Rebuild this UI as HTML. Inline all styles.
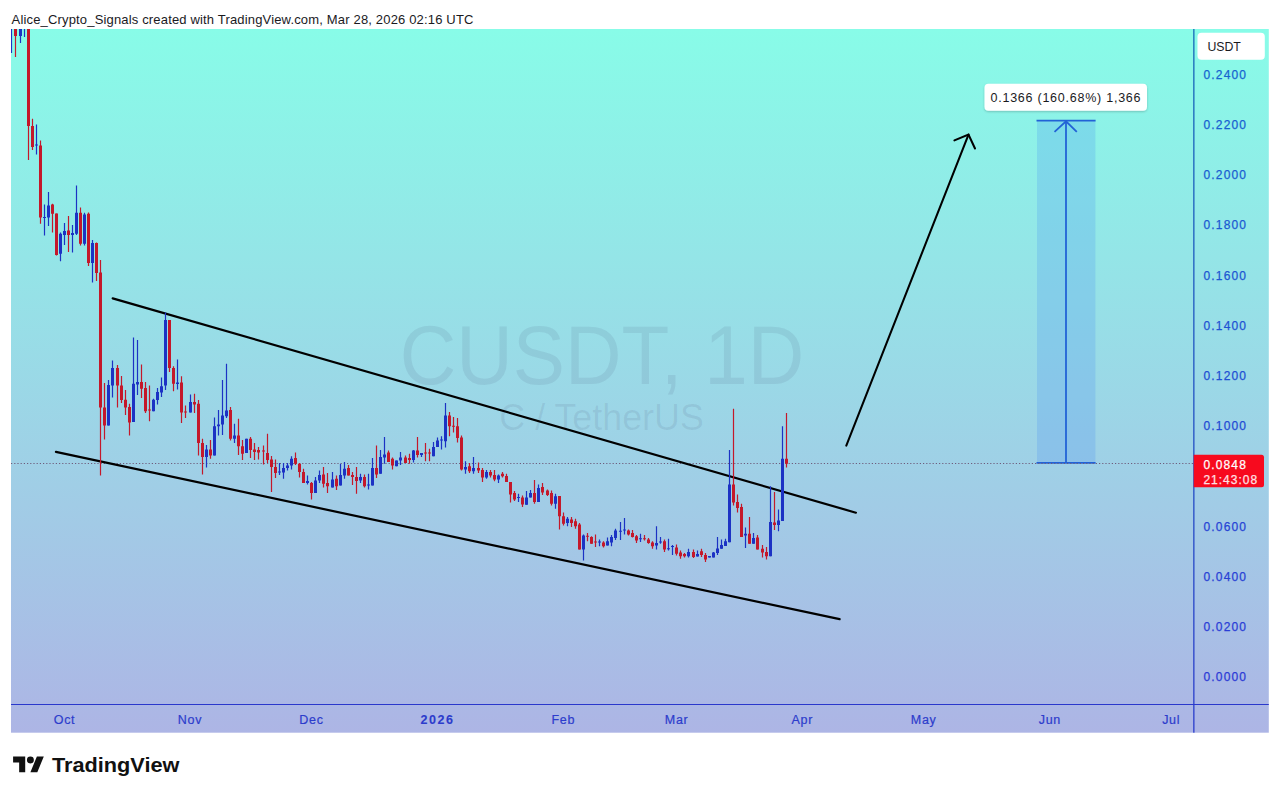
<!DOCTYPE html>
<html lang="en"><head><meta charset="utf-8"><title>CUSDT chart</title>
<style>
html,body{margin:0;padding:0;background:#fff;}
body{width:1280px;height:797px;overflow:hidden;position:relative;font-family:"Liberation Sans",sans-serif;}
svg{position:absolute;left:0;top:0;display:block;}
text{font-family:"Liberation Sans",sans-serif;}
.ax{font-size:12px;letter-spacing:1.15px;stroke-width:0.25px;}
.tm{font-size:12.5px;letter-spacing:0.7px;fill:#2c3ccc;stroke:#2c3ccc;stroke-width:0.2px;}
</style></head><body>
<svg width="1280" height="797" viewBox="0 0 1280 797">
<defs>
<linearGradient id="bg" x1="0" y1="0" x2="0" y2="1"><stop offset="0" stop-color="rgb(136,252,232)"/><stop offset="1" stop-color="rgb(173,181,229)"/></linearGradient>
<linearGradient id="axl" x1="0" y1="0" x2="0" y2="1"><stop offset="0" stop-color="#1668b8"/><stop offset="1" stop-color="#2a3ccc"/></linearGradient>
<filter id="sh" x="-10%" y="-30%" width="120%" height="170%"><feDropShadow dx="0" dy="1" stdDeviation="1.2" flood-color="#000" flood-opacity="0.22"/></filter>
<clipPath id="cp"><rect x="11" y="29" width="1183" height="675.5"/></clipPath>
</defs>
<text x="11.6" y="23.6" font-size="13" fill="#1a1a1e" textLength="461.8" lengthAdjust="spacing">Alice_Crypto_Signals created with TradingView.com, Mar 28, 2026 02:16 UTC</text>
<rect x="11" y="29" width="1257.8" height="703.7" fill="url(#bg)"/>
<g fill="rgba(50,52,92,0.095)">
<text x="602" y="384" font-size="84" text-anchor="middle" textLength="404.5" lengthAdjust="spacingAndGlyphs">CUSDT, 1D</text>
<text x="601.6" y="430" font-size="37.5" text-anchor="middle" textLength="204.5" lengthAdjust="spacingAndGlyphs">C / TetherUS</text>
</g>
<rect x="1037" y="120.6" width="58.4" height="342.2" fill="rgba(60,130,245,0.2)"/>
<g stroke="#2262d6" stroke-width="1.8" fill="none">
<line x1="1036.5" y1="120.6" x2="1095.6" y2="120.6"/>
<line x1="1036.5" y1="462.8" x2="1095.6" y2="462.8"/>
<line x1="1066" y1="121.5" x2="1066" y2="462.8"/>
<polyline points="1054.5,131.8 1066,121.3 1076.8,131.8" stroke-width="1.8"/>
</g>
<line x1="11" y1="463.5" x2="1194" y2="463.5" stroke="#6e5c7c" stroke-width="1.05" stroke-dasharray="1.2 2"/>
<g stroke="#000" stroke-width="2.2" stroke-linecap="round" fill="none">
<line x1="112.7" y1="298.4" x2="855.9" y2="512.7"/>
<line x1="55.9" y1="451.9" x2="839.6" y2="619.2"/>
<line x1="846.3" y1="445.6" x2="968.4" y2="134.8" stroke-width="2.05"/>
<polyline points="954.4,140.4 968.5,134.6 975,148.5" stroke-linejoin="miter" stroke-width="2.05"/>
</g>
<g clip-path="url(#cp)">
<path d="M15.50 29.00V57.00M28.50 29.00V160.00M32.50 118.75V150.00M40.50 140.60V223.75M52.50 203.75V232.50M56.50 213.50V255.60M68.50 216.00V252.00M80.50 207.50V245.60M88.50 212.50V266.00M96.50 242.50V281.00M100.50 260.00V475.60M104.50 383.00V439.40M117.50 365.00V407.50M121.50 376.00V403.00M125.50 390.00V415.00M129.50 403.75V435.60M141.50 364.40V398.00M145.50 382.00V413.00M149.50 385.60V421.25M169.50 320.00V372.00M173.50 366.25V391.25M181.50 376.25V423.00M185.50 405.60V418.00M194.50 393.75V413.00M198.50 400.00V455.60M202.50 438.75V474.40M210.50 440.00V458.75M230.50 407.00V440.60M238.50 418.75V455.00M242.50 440.00V460.00M250.50 437.00V458.00M254.50 443.00V460.00M258.50 447.00V459.40M263.50 445.60V464.40M267.50 433.75V463.00M271.50 456.00V492.00M275.50 459.40V478.00M295.50 452.50V465.00M299.50 463.00V477.50M303.50 468.75V483.00M311.50 482.00V499.40M323.50 467.00V487.50M327.50 473.00V493.00M336.50 475.60V490.00M348.50 465.00V475.60M352.50 472.00V485.00M356.50 467.00V493.75M364.50 474.40V487.50M376.50 445.60V478.00M388.50 450.60V462.00M392.50 457.50V469.40M405.50 455.60V463.00M409.50 453.75V463.75M417.50 437.00V457.50M425.50 443.00V461.25M429.50 448.75V461.25M449.50 412.00V436.25M453.50 417.00V432.50M457.50 418.00V442.50M461.50 435.60V470.60M469.50 463.00V473.00M478.50 462.50V473.00M482.50 468.00V482.00M490.50 470.00V477.50M494.50 470.00V481.25M502.50 472.00V477.50M506.50 473.75V482.00M510.50 482.00V502.50M514.50 491.00V501.00M522.50 495.60V507.00M534.50 480.00V503.75M542.50 483.00V495.00M547.50 489.40V496.00M551.50 490.60V505.60M559.50 496.00V529.40M563.50 512.50V525.60M571.50 517.00V527.00M575.50 518.75V528.75M579.50 523.00V549.40M587.50 533.00V541.25M591.50 536.25V543.75M595.50 534.40V547.00M603.50 541.25V547.50M628.50 529.40V535.60M632.50 530.00V537.50M636.50 535.00V543.00M644.50 535.00V540.60M648.50 538.00V543.75M652.50 541.25V548.75M664.50 539.40V552.00M676.50 544.40V555.60M680.50 550.60V558.75M684.50 553.00V557.50M693.50 549.40V558.00M701.50 548.75V557.00M705.50 553.00V562.00M733.50 408.75V505.60M737.50 494.40V512.50M741.50 503.75V537.00M749.50 517.00V543.75M757.50 535.00V549.40M762.50 545.00V557.50M766.50 547.00V559.40M774.50 492.00V530.00M786.50 413.00V467.50" stroke="#c4182a" stroke-width="1.2" fill="none"/>
<path d="M11.50 29.00V53.00M20.50 29.00V43.00M24.50 29.00V37.00M36.50 124.40V154.40M44.50 204.40V235.60M48.50 192.00V226.00M60.50 232.50V261.25M64.50 223.00V245.00M72.50 225.00V252.50M76.50 185.60V235.00M84.50 212.75V245.60M92.50 240.00V282.50M108.50 380.00V425.60M112.50 360.60V397.50M133.50 337.50V422.00M137.50 340.00V395.00M153.50 398.75V411.25M157.50 388.00V404.40M161.50 377.50V397.00M165.50 312.50V390.00M177.50 359.40V389.40M190.50 394.40V412.50M206.50 445.00V467.50M214.50 417.50V455.60M218.50 410.00V435.60M222.50 380.00V435.00M226.50 363.75V418.00M234.50 423.75V443.00M246.50 438.75V453.00M279.50 463.00V475.00M283.50 463.00V478.75M287.50 463.00V470.60M291.50 456.25V469.40M307.50 475.60V484.40M315.50 477.00V493.00M319.50 470.60V483.00M332.50 472.00V487.50M340.50 463.75V485.60M344.50 462.00V478.75M360.50 473.75V483.00M368.50 473.75V489.40M372.50 458.00V485.60M380.50 450.00V473.75M384.50 437.00V463.75M396.50 460.60V466.25M400.50 452.00V465.00M413.50 450.00V462.50M421.50 453.00V457.00M433.50 442.00V456.25M437.50 437.50V447.00M441.50 436.25V449.40M445.50 403.00V447.50M465.50 461.25V473.75M473.50 457.00V473.75M486.50 470.00V478.75M498.50 474.40V483.00M518.50 493.75V502.00M526.50 491.00V504.75M530.50 490.00V497.50M538.50 484.40V502.00M555.50 493.75V508.75M567.50 517.00V526.25M583.50 534.40V560.60M599.50 539.40V546.25M607.50 537.50V545.60M611.50 535.00V546.25M615.50 528.75V540.00M620.50 522.00V540.00M624.50 518.00V534.40M640.50 533.75V542.00M656.50 526.25V549.40M660.50 537.00V543.75M668.50 538.75V550.60M672.50 545.00V555.00M688.50 548.75V557.50M697.50 550.60V556.50M709.50 556.00V557.50M713.50 552.00V557.50M717.50 537.00V555.00M721.50 539.40V548.75M725.50 538.75V546.00M729.50 450.00V542.25M745.50 527.50V548.00M753.50 533.00V543.75M770.50 486.25V556.25M778.50 509.40V531.25M782.50 426.25V521.00" stroke="#1c32c4" stroke-width="1.2" fill="none"/>
<path d="M14.00 29.00h3v7.00h-3zM27.00 29.00h3v97.00h-3zM31.00 126.00h3v21.00h-3zM39.00 145.60h3v71.90h-3zM51.00 204.40h3v9.35h-3zM55.00 213.50h3v41.50h-3zM67.00 230.60h3v4.40h-3zM79.00 212.75h3v31.00h-3zM87.00 213.75h3v49.25h-3zM95.00 243.00h3v30.00h-3zM99.00 272.50h3v135.00h-3zM103.00 407.50h3v18.10h-3zM116.00 368.00h3v17.60h-3zM120.00 385.60h3v14.40h-3zM124.00 399.75h3v7.75h-3zM128.00 407.00h3v15.50h-3zM140.00 382.00h3v6.75h-3zM144.00 388.00h3v23.25h-3zM148.00 409.50h3v1.00h-3zM168.00 320.00h3v48.00h-3zM172.00 368.00h3v15.75h-3zM180.00 382.50h3v30.00h-3zM184.00 411.50h3v1.00h-3zM193.00 402.00h3v2.40h-3zM197.00 403.75h3v39.25h-3zM201.00 443.00h3v14.00h-3zM209.00 449.40h3v6.20h-3zM229.00 410.00h3v28.75h-3zM237.00 435.60h3v10.65h-3zM241.00 446.25h3v7.50h-3zM249.00 438.75h3v11.25h-3zM253.00 449.40h3v2.60h-3zM257.00 450.00h3v2.50h-3zM262.00 450.50h3v1.00h-3zM266.00 453.00h3v7.00h-3zM270.00 459.40h3v7.60h-3zM274.00 467.00h3v6.00h-3zM294.00 458.00h3v5.75h-3zM298.00 463.75h3v8.25h-3zM302.00 472.00h3v11.00h-3zM310.00 483.00h3v10.00h-3zM322.00 474.40h3v9.35h-3zM326.00 483.00h3v3.25h-3zM335.00 478.75h3v7.50h-3zM347.00 468.00h3v7.60h-3zM351.00 475.00h3v2.00h-3zM355.00 477.00h3v4.00h-3zM363.00 477.00h3v9.25h-3zM375.00 468.00h3v6.40h-3zM387.00 452.50h3v9.50h-3zM391.00 458.75h3v6.85h-3zM404.00 457.50h3v5.50h-3zM408.00 458.00h3v2.00h-3zM416.00 450.60h3v4.40h-3zM424.00 452.50h3v1.00h-3zM428.00 452.50h3v1.00h-3zM448.00 415.60h3v10.65h-3zM452.00 425.75h3v1.00h-3zM456.00 426.25h3v11.75h-3zM460.00 437.50h3v31.90h-3zM468.00 466.25h3v5.00h-3zM477.00 468.00h3v2.60h-3zM481.00 470.00h3v7.50h-3zM489.00 472.00h3v3.60h-3zM493.00 475.00h3v4.40h-3zM501.00 473.75h3v2.50h-3zM505.00 476.00h3v6.00h-3zM509.00 482.00h3v12.40h-3zM513.00 493.00h3v6.40h-3zM521.00 497.50h3v6.90h-3zM533.00 493.00h3v9.00h-3zM541.00 487.00h3v5.50h-3zM546.00 490.60h3v4.40h-3zM550.00 493.00h3v10.75h-3zM558.00 496.00h3v20.25h-3zM562.00 516.25h3v7.50h-3zM570.00 519.40h3v3.60h-3zM574.00 521.25h3v5.00h-3zM578.00 524.40h3v25.00h-3zM586.00 535.75h3v1.00h-3zM590.00 537.00h3v6.75h-3zM594.00 541.50h3v1.00h-3zM602.00 542.50h3v3.75h-3zM627.00 530.60h3v3.80h-3zM631.00 533.00h3v4.00h-3zM635.00 536.25h3v4.35h-3zM643.00 538.25h3v1.00h-3zM647.00 539.40h3v3.60h-3zM651.00 542.50h3v3.75h-3zM663.00 541.25h3v8.15h-3zM675.00 547.50h3v6.25h-3zM679.00 552.50h3v3.75h-3zM683.00 554.00h3v2.25h-3zM692.00 552.00h3v5.00h-3zM700.00 551.25h3v3.75h-3zM704.00 555.00h3v4.40h-3zM732.00 484.40h3v18.10h-3zM736.00 502.00h3v6.00h-3zM740.00 507.00h3v30.00h-3zM748.00 533.75h3v10.00h-3zM756.00 537.50h3v11.90h-3zM761.00 548.75h3v3.75h-3zM765.00 552.00h3v4.25h-3zM773.00 522.50h3v2.50h-3zM785.00 458.75h3v5.00h-3z" fill="#c4182a"/>
<path d="M19.00 29.00h3v7.00h-3zM35.00 144.50h3v1.00h-3zM43.00 217.00h3v1.00h-3zM47.00 205.60h3v11.90h-3zM59.00 233.75h3v20.00h-3zM63.00 231.00h3v4.00h-3zM71.00 233.00h3v2.00h-3zM75.00 212.75h3v21.00h-3zM83.00 214.40h3v29.35h-3zM91.00 243.00h3v20.00h-3zM107.00 385.00h3v40.60h-3zM111.00 368.00h3v17.60h-3zM132.00 383.75h3v38.25h-3zM136.00 382.00h3v2.40h-3zM152.00 399.75h3v11.50h-3zM156.00 392.00h3v8.00h-3zM160.00 386.25h3v6.25h-3zM164.00 320.00h3v65.60h-3zM176.00 382.50h3v1.50h-3zM189.00 402.00h3v10.50h-3zM205.00 449.40h3v7.60h-3zM213.00 426.25h3v29.35h-3zM217.00 424.40h3v1.85h-3zM221.00 415.60h3v8.80h-3zM225.00 410.60h3v5.65h-3zM233.00 435.60h3v3.15h-3zM245.00 438.75h3v14.25h-3zM278.00 471.50h3v1.00h-3zM282.00 468.00h3v4.50h-3zM286.00 465.60h3v2.40h-3zM290.00 458.75h3v6.85h-3zM306.00 481.00h3v2.00h-3zM314.00 480.60h3v12.40h-3zM318.00 475.00h3v5.60h-3zM331.00 479.40h3v8.10h-3zM339.00 475.00h3v10.60h-3zM343.00 468.75h3v6.85h-3zM359.00 477.00h3v3.60h-3zM367.00 484.50h3v1.00h-3zM371.00 468.00h3v17.60h-3zM379.00 457.00h3v16.75h-3zM383.00 454.40h3v3.10h-3zM395.00 460.60h3v5.65h-3zM399.00 457.50h3v3.10h-3zM412.00 450.60h3v9.40h-3zM420.00 453.00h3v2.00h-3zM432.00 447.00h3v9.25h-3zM436.00 440.60h3v6.40h-3zM440.00 439.50h3v1.00h-3zM444.00 415.60h3v25.65h-3zM464.00 467.00h3v2.40h-3zM472.00 468.00h3v3.25h-3zM485.00 472.00h3v5.50h-3zM497.00 475.60h3v3.80h-3zM517.00 497.00h3v1.00h-3zM525.00 497.50h3v7.25h-3zM529.00 493.00h3v4.50h-3zM537.00 488.00h3v14.00h-3zM554.00 496.25h3v7.50h-3zM566.00 518.75h3v4.25h-3zM582.00 535.60h3v13.80h-3zM598.00 541.50h3v1.00h-3zM606.00 541.25h3v4.35h-3zM610.00 537.00h3v5.50h-3zM614.00 530.60h3v7.40h-3zM619.00 530.75h3v1.00h-3zM623.00 529.50h3v1.00h-3zM639.00 538.25h3v1.00h-3zM655.00 543.00h3v2.60h-3zM659.00 541.50h3v1.00h-3zM667.00 548.25h3v1.00h-3zM671.00 546.00h3v1.00h-3zM687.00 552.00h3v4.25h-3zM696.00 554.00h3v2.50h-3zM708.00 556.00h3v1.50h-3zM712.00 552.50h3v5.00h-3zM716.00 548.50h3v4.50h-3zM720.00 545.00h3v3.75h-3zM724.00 541.25h3v4.75h-3zM728.00 484.40h3v57.85h-3zM744.00 533.75h3v1.85h-3zM752.00 538.00h3v5.75h-3zM769.00 522.00h3v34.25h-3zM777.00 520.60h3v4.40h-3zM781.00 458.75h3v62.25h-3z" fill="#1c32c4"/>
</g>
<rect x="1193.2" y="29" width="1.3" height="703.7" fill="url(#axl)"/>
<line x1="11" y1="704.5" x2="1268.8" y2="704.5" stroke="#2a38cc" stroke-width="1.2"/>
<text class="ax" x="1203.5" y="78.8" fill="rgb(22,100,208)" stroke="rgb(22,100,208)">0.2400</text>
<text class="ax" x="1203.5" y="129.0" fill="rgb(24,96,209)" stroke="rgb(24,96,209)">0.2200</text>
<text class="ax" x="1203.5" y="179.2" fill="rgb(26,93,209)" stroke="rgb(26,93,209)">0.2000</text>
<text class="ax" x="1203.5" y="229.4" fill="rgb(28,89,210)" stroke="rgb(28,89,210)">0.1800</text>
<text class="ax" x="1203.5" y="279.6" fill="rgb(29,86,210)" stroke="rgb(29,86,210)">0.1600</text>
<text class="ax" x="1203.5" y="329.8" fill="rgb(31,82,211)" stroke="rgb(31,82,211)">0.1400</text>
<text class="ax" x="1203.5" y="380.0" fill="rgb(33,79,211)" stroke="rgb(33,79,211)">0.1200</text>
<text class="ax" x="1203.5" y="430.2" fill="rgb(35,75,212)" stroke="rgb(35,75,212)">0.1000</text>
<text class="ax" x="1203.5" y="530.6" fill="rgb(39,68,213)" stroke="rgb(39,68,213)">0.0600</text>
<text class="ax" x="1203.5" y="580.8" fill="rgb(40,65,213)" stroke="rgb(40,65,213)">0.0400</text>
<text class="ax" x="1203.5" y="630.9" fill="rgb(42,61,214)" stroke="rgb(42,61,214)">0.0200</text>
<text class="ax" x="1203.5" y="681.1" fill="rgb(44,58,214)" stroke="rgb(44,58,214)">0.0000</text>
<rect x="1197.5" y="32.8" width="67.3" height="27" rx="4" fill="#fff"/>
<text x="1207.6" y="51.1" font-size="12.3" fill="#1a1a1e" letter-spacing="-0.1">USDT</text>
<path d="M1193.7 454.8H1261.5a2.5 2.5 0 0 1 2.5 2.5V484.8a2.5 2.5 0 0 1-2.5 2.5H1193.7z" fill="#f70a1e"/>
<text class="ax" x="1203.4" y="468.5" fill="#fff" stroke="#fff">0.0848</text>
<text x="1203.4" y="483.8" font-size="12" letter-spacing="1.0" fill="#ffe0e4" stroke="#ffe0e4" stroke-width="0.25">21:43:08</text>
<text class="tm" x="64.5" y="723.9" text-anchor="middle">Oct</text>
<text class="tm" x="190" y="723.9" text-anchor="middle">Nov</text>
<text class="tm" x="311.5" y="723.9" text-anchor="middle">Dec</text>
<text class="tm" x="437.5" y="723.9" text-anchor="middle" style="font-weight:bold;letter-spacing:1.5px;stroke-width:0.1px">2026</text>
<text class="tm" x="563.3" y="723.9" text-anchor="middle">Feb</text>
<text class="tm" x="676.6" y="723.9" text-anchor="middle">Mar</text>
<text class="tm" x="802.3" y="723.9" text-anchor="middle">Apr</text>
<text class="tm" x="923.7" y="723.9" text-anchor="middle">May</text>
<text class="tm" x="1049.9" y="723.9" text-anchor="middle">Jun</text>
<text class="tm" x="1171.2" y="723.9" text-anchor="middle">Jul</text>
<rect x="984.5" y="83.8" width="162.5" height="27" rx="4" fill="#fff" filter="url(#sh)"/>
<text x="990.5" y="102" font-size="12.5" fill="#1a1a1e" textLength="150" lengthAdjust="spacing">0.1366 (160.68%) 1,366</text>
<g transform="translate(13.1,753.1) scale(0.865)" fill="#111"><path d="M14 22H7V11H0V4h14v18zM28 22h-8l7.500-18h8L28 22z"/><circle cx="20" cy="8" r="4"/></g>
<text x="51.9" y="772.1" font-size="21" font-weight="bold" fill="#111" textLength="127.6" lengthAdjust="spacingAndGlyphs">TradingView</text>
</svg>
</body></html>
